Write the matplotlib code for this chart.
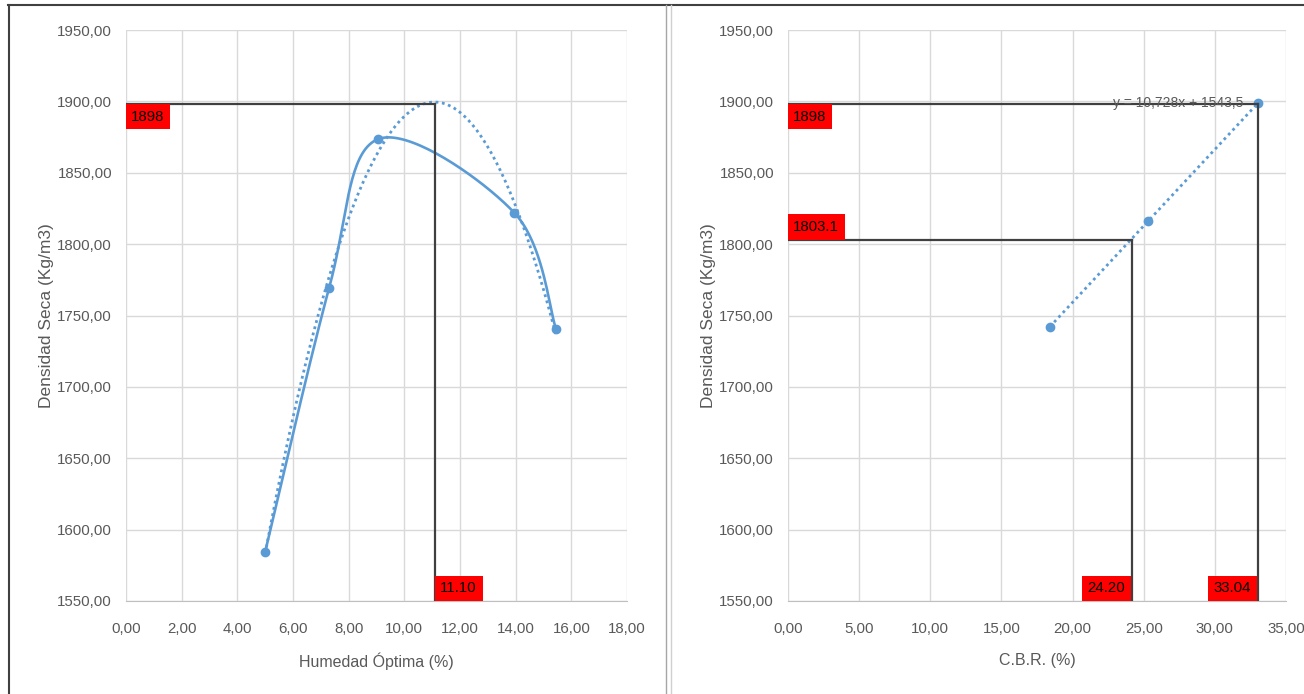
import numpy as np
import matplotlib
matplotlib.use("Agg")
from matplotlib import pyplot as plt
from matplotlib.lines import Line2D
from matplotlib.ticker import FuncFormatter, MultipleLocator

# datos del ensayo Proctor
humedad = [5.0, 7.3, 9.05, 13.95, 15.45]
densidad_proctor = [1584.5, 1769.5, 1873.5, 1822.0, 1740.5]

# datos CBR
cbr = [18.4, 25.3, 33.05]
densidad_cbr = [1741.8, 1816.5, 1898.8]

humedad_optima = 11.10
densidad_max = 1898
densidad_95 = 1803.1
cbr_95 = 24.20
cbr_100 = 33.04
eq_label = "y = 10,728x + 1543,5"

BLUE = "#5B9BD5"
GRID = "#D9D9D9"
TXT = "#595959"
REF = "#404040"

plt.rcParams['font.family'] = ['Liberation Sans', 'DejaVu Sans']

W, H = 1304, 694


def excel_smooth(xs, ys, sx, sy, n=40):
    # bezier tipo catmull-rom en coordenadas de pixel
    p = np.column_stack([np.asarray(xs) / sx, np.asarray(ys) / sy])
    pts = np.vstack([p[0], p, p[-1]])
    segs = []
    for i in range(1, len(pts) - 2):
        p0, p1, p2, p3 = pts[i - 1], pts[i], pts[i + 1], pts[i + 2]
        c1 = p1 + (p2 - p0) / 6
        c2 = p2 - (p3 - p1) / 6
        t = np.linspace(0, 1, n)[:, None]
        segs.append((1 - t) ** 3 * p1 + 3 * (1 - t) ** 2 * t * c1 + 3 * (1 - t) * t ** 2 * c2 + t ** 3 * p2)
    out = np.vstack(segs)
    return out[:, 0] * sx, out[:, 1] * sy


def style_axes(ax, xmax, xstep, xlabel):
    ax.set_xlim(0, xmax)
    ax.set_ylim(1550, 1950)
    ax.xaxis.set_major_locator(MultipleLocator(xstep))
    ax.yaxis.set_major_locator(MultipleLocator(50))
    fmt = FuncFormatter(lambda v, p: f"{v:.2f}".replace(".", ","))
    ax.xaxis.set_major_formatter(fmt)
    ax.yaxis.set_major_formatter(fmt)
    ax.grid(True, color=GRID, linewidth=1.0)
    ax.set_axisbelow(True)
    for s in ["top", "right", "left"]:
        ax.spines[s].set_visible(False)
    ax.spines["bottom"].set_color("#BFBFBF")
    ax.tick_params(axis="both", length=0, labelsize=10.8, colors=TXT)
    ax.tick_params(axis="x", pad=15)
    ax.tick_params(axis="y", pad=10)
    ax.set_xlabel(xlabel, fontsize=11.5, color=TXT, labelpad=12)
    ax.set_ylabel("Densidad Seca (Kg/m3)", fontsize=12.5, color=TXT, labelpad=2)


def red_label(ax, text, xy, ha, va):
    dx = 3.8 if ha == "left" else -5.0
    dy = 4.0 if va == "bottom" else -4.0
    ax.annotate(text, xy=xy, xytext=(dx, dy), textcoords="offset points", ha=ha, va=va,
                fontsize=10.8, color="black", zorder=6,
                bbox=dict(boxstyle="square,pad=0.38", fc="#FF0000", ec="none"))


fig = plt.figure(figsize=(W / 100, H / 100), dpi=100)

# panel izquierdo: Proctor
ax1 = fig.add_axes([126 / W, 1 - 601 / H, 501 / W, 571 / H])
style_axes(ax1, 18, 2, "Humedad Óptima (%)")
sx1, sy1 = 18 / 501, 400 / 571
xs, ys = excel_smooth(humedad, densidad_proctor, sx1, sy1)
ax1.plot(xs, ys, color=BLUE, linewidth=1.9, zorder=3)
coef = np.polyfit(humedad, densidad_proctor, 2)
xt = np.linspace(min(humedad), max(humedad), 200)
ax1.plot(xt, np.polyval(coef, xt), color=BLUE, linewidth=2.0, linestyle=(0, (1, 1.3)), zorder=3)
ax1.plot(humedad, densidad_proctor, "o", color=BLUE, markersize=6, zorder=4)
ax1.plot([0, humedad_optima], [densidad_max, densidad_max], color=REF, linewidth=1.6, zorder=5)
ax1.plot([humedad_optima, humedad_optima], [1550, densidad_max], color=REF, linewidth=1.6, zorder=5)
red_label(ax1, f"{densidad_max}", (0, densidad_max), "left", "top")
red_label(ax1, f"{humedad_optima:.2f}", (humedad_optima, 1550), "left", "bottom")

# panel derecho: CBR
ax2 = fig.add_axes([788 / W, 1 - 601 / H, 498 / W, 571 / H])
style_axes(ax2, 35, 5, "C.B.R. (%)")
lin = np.polyfit(cbr, densidad_cbr, 1)
xl = np.array([min(cbr), max(cbr)])
ax2.plot(xl, np.polyval(lin, xl), color=BLUE, linewidth=2.0, linestyle=(0, (1, 1.3)), zorder=3)
ax2.plot(cbr, densidad_cbr, "o", color=BLUE, markersize=6, zorder=4)
ax2.plot([0, cbr_100], [densidad_max, densidad_max], color=REF, linewidth=1.6, zorder=5)
ax2.plot([cbr_100, cbr_100], [1550, densidad_max], color=REF, linewidth=1.6, zorder=5)
ax2.plot([0, cbr_95], [densidad_95, densidad_95], color=REF, linewidth=1.6, zorder=5)
ax2.plot([cbr_95, cbr_95], [1550, densidad_95], color=REF, linewidth=1.6, zorder=5)
ax2.text(32.0, 1899, eq_label, ha="right", va="center", fontsize=10, color=TXT, zorder=6)
red_label(ax2, f"{densidad_max}", (0, densidad_max), "left", "top")
red_label(ax2, f"{densidad_95}", (0, densidad_95), "left", "bottom")
red_label(ax2, f"{cbr_95:.2f}", (cbr_95, 1550), "right", "bottom")
red_label(ax2, f"{cbr_100:.2f}", (cbr_100, 1550), "right", "bottom")

# marcos de las imagenes
fig.add_artist(Line2D([8 / W, 1], [1 - 5 / H, 1 - 5 / H], color=REF, linewidth=1.5))
fig.add_artist(Line2D([9 / W, 9 / W], [0, 1 - 5 / H], color=REF, linewidth=1.5))
fig.add_artist(Line2D([666 / W, 666 / W], [0, 1 - 5 / H], color="#A6A6A6", linewidth=1.0))
fig.add_artist(Line2D([671 / W, 671 / W], [0, 1 - 5 / H], color="#D0D0D0", linewidth=1.0))

fig.savefig("out.png", dpi=100)
